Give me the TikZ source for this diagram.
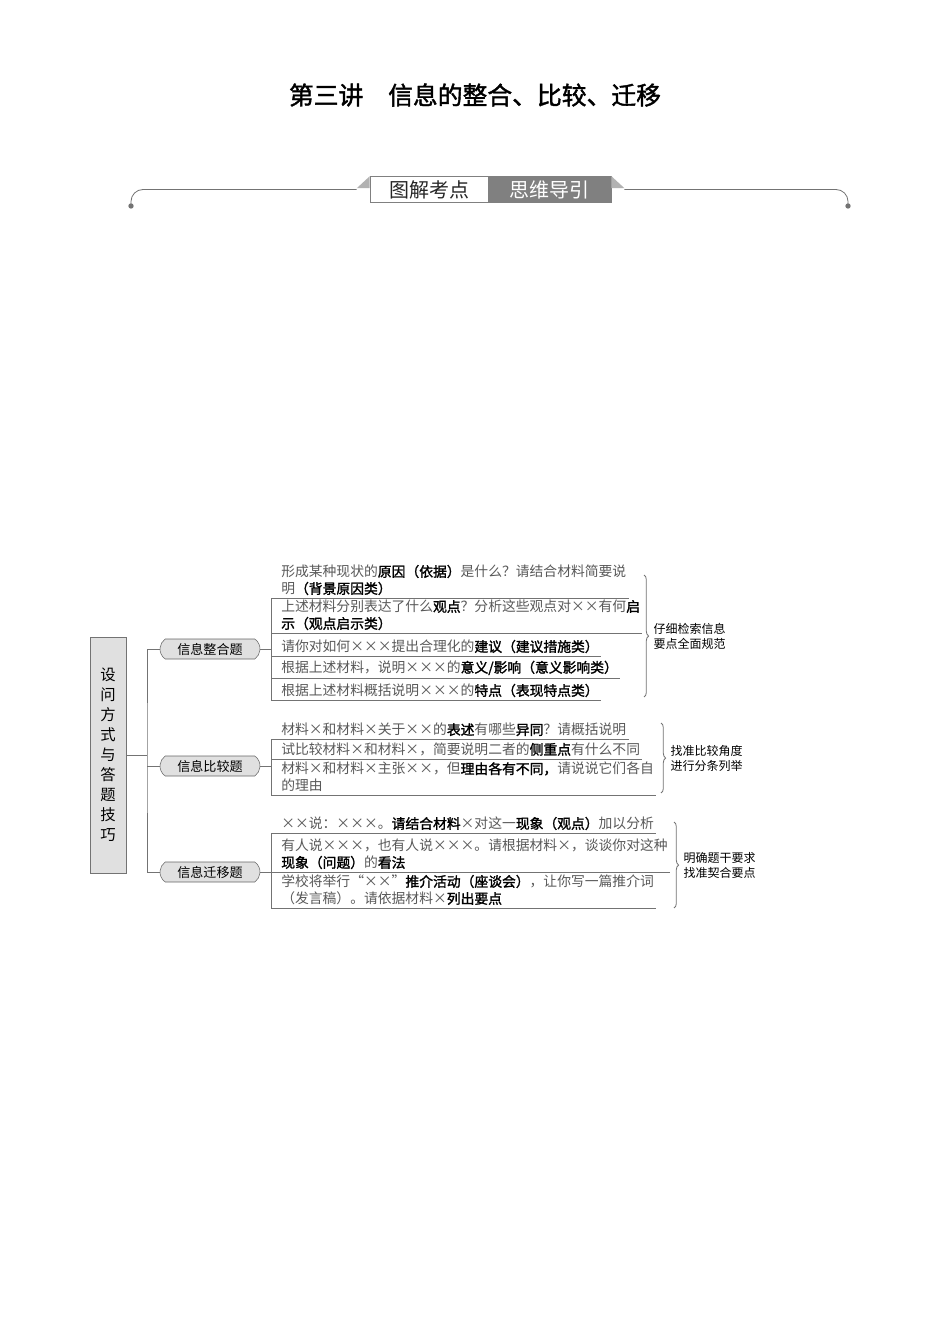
\documentclass[tikz,border=0pt]{standalone}
\usepackage{fontspec}
\setmainfont{Noto Sans CJK SC}
\newfontfamily\kwfont[FakeBold=1.6]{Noto Sans CJK SC}
\usepackage{tikz}
\usetikzlibrary{positioning,shapes.misc,decorations.pathreplacing}
\newcommand{\Xm}{\makebox[1em]{×}}
\newcommand{\Kw}[1]{{\kwfont\color{black}#1}}
\tikzset{
  rule/.style={draw=black!55, line width=0.6pt},
  tagbox/.style={draw=black!50, minimum height=19.5pt, inner sep=0pt, font=\fontsize{15}{18}\selectfont},
  root/.style={draw=black!55, fill=black!12, minimum width=27pt, minimum height=177pt, inner sep=0pt,
    align=center, font=\fontsize{11.5}{15}\selectfont},
  qbox/.style={rounded rectangle, rounded rectangle arc length=110, draw=black!60, fill=black!12,
    minimum width=75pt, minimum height=15pt, inner sep=0pt, font=\fontsize{9.8}{12}\selectfont},
  item/.style={anchor=south west, align=left, inner xsep=0pt, inner ysep=2pt, text=black!65,
    font=\fontsize{10.35}{12.75}\selectfont},
  note/.style={align=left, inner sep=0pt, font=\fontsize{9}{11.25}\selectfont},
  bracket/.style={rule, decorate, decoration={brace, amplitude=3.5pt}}
}
\begin{document}
\begin{tikzpicture}[x=0.75pt, y=-0.75pt]
\path[fill=white] (0,0) rectangle (950,1344);
% title
\node[font=\fontsize{18.6}{21}\selectfont\kwfont] (title) at (475,95) {第三讲　信息的整合、比较、迁移};

% banner
\node[tagbox, fill=white, text=black!85, minimum width=88.5pt] (tagA) at (429,189.5) {图解考点};
\node[tagbox, fill=black!50, text=white, minimum width=92pt, right=0pt of tagA] (tagB) {思维导引};
\fill[black!30] (tagA.north west) -- ++(-13,12) -- ++(13,0) -- cycle;
\fill[black!30] (tagB.north east) -- ++(13,12) -- ++(-13,0) -- cycle;
\coordinate (dotL) at (131,206);
\coordinate (dotR) at (848,206);
\draw[rule, rounded corners=9pt] (dotL) |- ([xshift=-9.75pt]tagA.west);
\draw[rule, rounded corners=9pt] ([xshift=9.75pt]tagB.east) -| (dotR);
\fill[black!55] (dotL) circle (2pt) (dotR) circle (2pt);

% question types
\node[root] (root) at (108,755) {设\\问\\方\\式\\与\\答\\题\\技\\巧};
\node[qbox] (q1) at (210,649) {信息整合题};
\node[qbox] (q2) at (210,766) {信息比较题};
\node[qbox] (q3) at (210,872) {信息迁移题};
\coordinate (trunk) at (147,755);
\draw[rule] (root.east) -- (trunk);
\draw[rule] (q1.west) -| (trunk) |- (q3.west);
\draw[rule] (q2.west) -- (q2.west -| trunk);

% items with underlines
\foreach \n/\y/\txt in {
  11/598/{形成某种现状的\Kw{原因（依据）}是什么？请结合材料简要说\\明\Kw{（背景原因类）}},
  12/633/{上述材料分别表达了什么\Kw{观点}？分析这些观点对\Xm\Xm 有何\Kw{启}\\\Kw{示（观点启示类）}},
  13/656/{请你对如何\Xm\Xm\Xm 提出合理化的\Kw{建议（建议措施类）}},
  14/678/{根据上述材料，说明\Xm\Xm\Xm 的\Kw{意义/影响（意义影响类）}},
  15/700/{根据上述材料概括说明\Xm\Xm\Xm 的\Kw{特点（表现特点类）}},
  21/739/{材料\Xm 和材料\Xm 关于\Xm\Xm 的\Kw{表述}有哪些\Kw{异同}？请概括说明},
  22/759/{试比较材料\Xm 和材料\Xm，简要说明二者的\Kw{侧重点}有什么不同},
  23/795/{材料\Xm 和材料\Xm 主张\Xm\Xm，但\Kw{理由各有不同，}请说说它们各自\\的理由},
  31/833/{\Xm\Xm 说：\Xm\Xm\Xm。\Kw{请结合材料}\Xm 对这一\Kw{现象（观点）}加以分析},
  32/872/{有人说\Xm\Xm\Xm，也有人说\Xm\Xm\Xm。请根据材料\Xm，谈谈你对这种\\\Kw{现象（问题）}的\Kw{看法}},
  33/908/{学校将举行“\Xm\Xm”\Kw{推介活动（座谈会）}，让你写一篇推介词\\（发言稿）。请依据材料\Xm\Kw{列出要点}}}{
  \coordinate (u\n) at (271,\y);
  \node[item] (i\n) at ([xshift=7.5pt]u\n) {\txt};
  \draw[rule] (u\n) -- ([xshift=1.5pt]i\n.south east);
}

% group lines, braces and notes
\foreach \g/\a/\b/\bx/\ya/\yb/\txt in {
  1/11/15/644/575/697/{仔细检索信息\\要点全面规范},
  2/21/23/661/723/793/{找准比较角度\\进行分条列举},
  3/31/33/674/822/908/{明确题干要求\\找准契合要点}}{
  \draw[rule] (u\a) -- (u\b);
  \draw[rule] (q\g.east) -- (q\g.east -| u\a);
  \coordinate (b\g) at (\bx,\ya);
  \coordinate (e\g) at (\bx,\yb);
  \coordinate (m\g) at (\bx,{(\ya+\yb)/2});
  \draw[bracket] (b\g) -- (e\g);
  \node[note, right=7pt of m\g] (n\g) {\txt};
}
\end{tikzpicture}
\end{document}
